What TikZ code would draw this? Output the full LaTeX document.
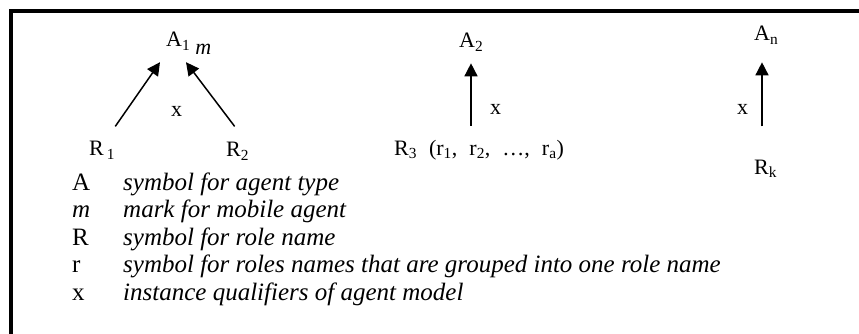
\documentclass[tikz,border=0pt]{standalone}
\usepackage{fontspec}
\setmainfont{Liberation Serif}
\usetikzlibrary{arrows.meta}
\begin{document}
\begin{tikzpicture}[x=1pt,y=-1pt,
  lbl/.style={font=\fontsize{22}{25}\selectfont, inner sep=0pt, anchor=base west},
  leg/.style={font=\fontsize{25}{29}\selectfont, inner sep=0pt, anchor=base west},
  arr/.style={line width=1.5pt, -{Triangle[length=13pt,width=13pt]}},
  frame/.style={line width=3.5pt}]
\useasboundingbox (0,0) rectangle (859,334);
\draw[frame] (859,11) -- (11,11) -- (11,334);
% top labels
\node[lbl] (A1) at (166,47) {A\textsubscript{1}\hspace{5pt}\raisebox{-8pt}{\textit{m}}};
\node[lbl] (R1) at (89,156) {R\hspace{3pt}\textsubscript{1}};
\node[lbl] (R2) at (226,157) {R\textsubscript{2}};
\node[lbl] (x1) at (171,117) {x};
\node[lbl] (A2) at (459,48) {A\textsubscript{2}};
\node[lbl] (R3) at (394,155) {R\textsubscript{3}\hspace{12pt}(r\textsubscript{1},\hspace{12pt}r\textsubscript{2},\hspace{12pt}…,\hspace{12pt}r\textsubscript{a})};
\node[lbl] (x2) at (490,114) {x};
\node[lbl] (An) at (754,41) {A\textsubscript{n}};
\node[lbl] (x3) at (737,114) {x};
\node[lbl] (Rk) at (754,174) {R\textsubscript{k}};
% arrows
\draw[arr] ([shift={(0,-15)}]R1.north east) -- ([shift={(-6,7)}]A1.south west);
\draw[arr] ([shift={(-3,-16)}]R2.north) -- ([shift={(20,7)}]A1.south west);
\draw[arr] ([shift={(77,-14)}]R3.north west) -- ([shift={(12,12)}]A2.south west);
\draw[arr] ([shift={(8,-33)}]Rk.north west) -- ([shift={(8,18)}]An.south west);
% legend
\node[leg] (k1) at (72,190) {A};
\node[leg] (v1) at (123,190) {\textit{symbol for agent type}};
\node[leg] (k2) at (72,217.5) {\textit{m}};
\node[leg] (v2) at (123,217.5) {\textit{mark for mobile agent}};
\node[leg] (k3) at (72,245) {R};
\node[leg] (v3) at (123,245) {\textit{symbol for role name}};
\node[leg] (k4) at (72,272.5) {r};
\node[leg] (v4) at (123,272.5) {\textit{symbol for roles names that are grouped into one role name}};
\node[leg] (k5) at (72,300) {x};
\node[leg] (v5) at (123,300) {\textit{instance qualifiers of agent model}};
\end{tikzpicture}
\end{document}
